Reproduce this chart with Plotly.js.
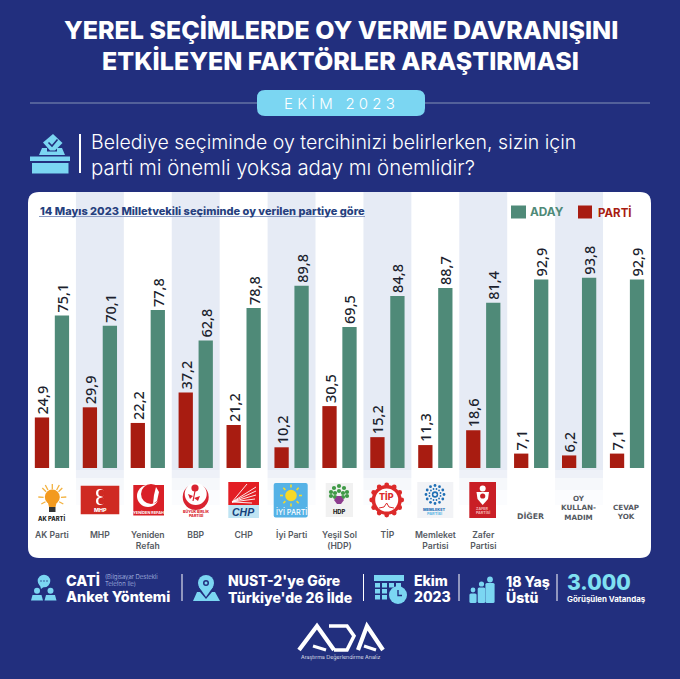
<!DOCTYPE html>
<html><head><meta charset="utf-8">
<script src="https://cdn.plot.ly/plotly-3.0.0.min.js"></script>
<style>html,body{margin:0;padding:0;background:#222f7e}
.annotation[data-index="2"] text{letter-spacing:4.2px}
</style></head><body><div id="c" style="width:680px;height:679px"></div>
<script>
// ---- data ----
const categories=["AK Parti","MHP","Yeniden Refah","BBP","CHP","İyi Parti","Yeşil Sol (HDP)","TİP","Memleket Partisi","Zafer Partisi","DİĞER","OY KULLANMADIM","CEVAP YOK"];
const partiValues=[24.9,29.9,22.2,37.2,21.2,10.2,30.5,15.2,11.3,18.6,7.1,6.2,7.1];
const adayValues=[75.1,70.1,77.8,62.8,78.8,89.8,69.5,84.8,88.7,81.4,92.9,93.8,92.9];
const partyTickLabels=["AK Parti","MHP","Yeniden<br>Refah","BBP","CHP","İyi Parti","Yeşil Sol<br>(HDP)","TİP","Memleket<br>Partisi","Zafer<br>Partisi"];
const NAVY="#222f7e",CYAN="#7bd6f2",GREEN="#4f8a78",RED="#a81c11";
// ---- pixel helpers for the decoration ----
const X=p=>p/680,Y=p=>1-p/679;
const shapes=[],ann=[];
const base={xref:"paper",yref:"paper",layer:"below"};
function rect(x0,y0,x1,y1,c){shapes.push({...base,type:"rect",x0:X(x0),x1:X(x1),y0:Y(y0),y1:Y(y1),fillcolor:c,line:{width:0}});}
function circ(cx,cy,r,c){shapes.push({...base,type:"circle",x0:X(cx-r),x1:X(cx+r),y0:Y(cy-r),y1:Y(cy+r),fillcolor:c,line:{width:0}});}
function poly(pts,c){shapes.push({...base,type:"path",path:"M"+pts.map(p=>X(p[0])+","+Y(p[1])).join("L")+"Z",fillcolor:c,line:{width:0}});}
function stroke(pts,c,w){shapes.push({...base,type:"path",path:"M"+pts.map(p=>X(p[0])+","+Y(p[1])).join("L"),line:{color:c,width:w}});}
function rr(x0,y0,x1,y1,r,c){const q=(a,b,d,e)=>"Q"+X(a)+","+Y(b)+" "+X(d)+","+Y(e);
 shapes.push({...base,type:"path",fillcolor:c,line:{width:0},path:"M"+X(x0+r)+","+Y(y0)+"L"+X(x1-r)+","+Y(y0)+q(x1,y0,x1,y0+r)+"L"+X(x1)+","+Y(y1-r)+q(x1,y1,x1-r,y1)+"L"+X(x0+r)+","+Y(y1)+q(x0,y1,x0,y1-r)+"L"+X(x0)+","+Y(y0+r)+q(x0,y0,x0+r,y0)+"Z"});}
function T(t,x,y,size,color,o){o=o||{};ann.push({text:t,xref:"paper",yref:"paper",x:X(x),y:Y(y),xanchor:o.a||"center",yanchor:"middle",showarrow:false,borderpad:0,align:o.a||"center",font:{family:o.f||"Inter",size:size,color:color,weight:o.w||400}});}
// ---- header ----
T("YEREL SEÇİMLERDE OY VERME DAVRANIŞINI",340.5,30,25,"#fff",{w:800});
T("ETKİLEYEN FAKTÖRLER ARAŞTIRMASI",340.5,61,25,"#fff",{w:800});
stroke([[30,103],[650,103]],"#53619a",2);
rr(257,90,425,116,8,CYAN);
T("EKİM 2023",341,103,15,"#ffffff",{w:300});
// ballot icon
rect(32,163,68.5,173.5,CYAN);rect(30,156.5,70,161,CYAN);
poly([[42,148],[47,148],[47,151.5],[57,151.5],[57,148],[62,148],[65,155],[39,155]],CYAN);
poly([[53,134],[62.5,143],[55,150.5],[50,150.5],[43,142.5]],CYAN);
stroke([[48.5,142.5],[52,146],[57.5,139.5]],NAVY,1.6);
rect(79,134,81,173,"#fff");
T("Belediye seçiminde oy tercihinizi belirlerken, sizin için",90,142,19.5,"#fff",{a:"left",w:300});
T("parti mi önemli yoksa aday mı önemlidir?",90,167,20.4,"#fff",{a:"left",w:300});
// card and bands
rr(28,192,651,558,11,"#ffffff");
for(let i=1;i<13;i+=2){const a=28+i*47.92,b=a+47.92;
 rect(a,192,b,470,"#e6ebf5");rect(a,470,b,478,"#eef1f8");rect(a,478,b,490,"#f6f8fb");rect(a,490,b,505,"#fbfcfe");}
T("14 Mayıs 2023 Milletvekili seçiminde oy verilen partiye göre",39,211,11,"#263f7e",{a:"left",w:800});
stroke([[39,216.5],[365,216.5]],"#8a9bc4",1);
// legend
rect(511,205.5,526,218.5,GREEN);T("ADAY",529,212,11.8,GREEN,{a:"left",w:700});
rect(578,205.5,592,218.5,RED);T("PARTİ",597,212,11.5,RED,{a:"left",w:700});
// non-party labels
const GR="#555a62",DV="DejaVu Sans";
T("DİĞER",530,516,7.8,GR,{w:700,f:DV});
T("OY<br>KULLAN-<br>MADIM",578.6,507.5,7.2,GR,{w:700,f:DV});
T("CEVAP<br>YOK",626,511.7,7.2,GR,{w:700,f:DV});
// ---- logos ----
// AK
for(const d of [[0,-14],[-10,-10],[10,-10],[-14,-1],[14,-1],[-7,-13],[7,-13],[-11,6],[11,6]]){stroke([[52.3+d[0]*.62,498+d[1]*.62],[52.3+d[0],498+d[1]]],"#f3b240",1.3);}
circ(52.3,497,7.5,"#f39a1f");poly([[47.5,501],[57,501],[55.5,507],[49,507]],"#f39a1f");rect(49,507,55.5,512,"#333");
T("AK PARTİ",52.3,518,5.8,"#222",{w:800});
// MHP
rect(80.7,485.7,119.3,514.3,"#cf2a22");
for(const y of [493,501]){circ(100,y,4,"#fff");circ(101.5,y,3.2,"#cf2a22");}
T("MHP",100,510,5.4,"#fff",{w:800});
// Yeniden Refah
rect(133.3,485,164,515.5,"#d92027");
circ(148,496,11,"#fff");circ(151,494,10,"#d92027");
poly([[156,487],[159,492],[157,501],[153,504],[154,495]],"#fff");
T("YENİDEN REFAH",148.6,512,3.9,"#fff",{w:700});
// BBP
circ(195.7,497,13,"#d92330");circ(195.7,494,11,"#fff");
circ(195,488,3.6,"#d92330");stroke([[195,491],[193,501]],"#d92330",1.2);poly([[193,496],[188,494],[190,499]],"#d92330");poly([[194,498],[200,496],[198,501]],"#d92330");
T("BÜYÜK BİRLİK",195.7,511,3.7,"#d92330",{w:800});T("PARTİSİ",195.7,515.5,3.7,"#d92330",{w:800});
// CHP
rect(228.3,482,259,505,"#e31e24");rect(228.3,505,259,518,"#bfe4f3");
for(const e of [[256,487],[256,491],[256,495],[255,499],[252,503],[247,484]]){stroke([[232,502],e],"#fff",.9);}
T("<i>CHP</i>",243.6,511.5,10.5,"#16407a",{w:800,f:"Liberation Sans"});
// IYI
rr(273.7,483,307.7,517.5,2,"#55b2e6");
for(const d of [[0,-1],[.7,-.7],[1,0],[.7,.7],[0,1],[-.7,.7],[-1,0],[-.7,-.7]]){stroke([[291+d[0]*8,495.5+d[1]*8],[291+d[0]*11,495.5+d[1]*11]],"#f6d928",1.6);}
circ(291,495.5,5.8,"#f6d928");
T("İYİ PARTİ",291,512,7.2,"#fff",{w:500});
// HDP
rect(325.7,483,353,517,"#f1f1f1");
for(const d of [[0,-7],[-5,-5],[5,-5],[-8,-1],[8,-1],[-4,0],[4,0],[0,-2],[-8,3],[8,3],[-4,4],[4,4]]){circ(339+d[0],493+d[1],2.1,"#3f9a46");}
poly([[337,496],[341,496],[344,500],[341,504],[337,504],[334,500]],"#8d3c8e");
T("HDP",339,511,5.8,"#222",{w:800});
// TIP
for(let k=0;k<12;k++){const a=k*Math.PI/6;circ(386.7+15*Math.cos(a),500+15*Math.sin(a),2.4,"#dc2a2a");}
circ(386.7,500,15,"#dc2a2a");circ(386.7,500,11.5,"#fff");
T("TİP",386.7,497,9,"#dc2a2a",{w:800});
stroke([[379,508],[384,507],[386.7,503],[389,507],[394,508]],"#dc2a2a",1);
// Memleket
rect(417.3,482,453.3,518,"#f2f3f6");
for(let k=0;k<12;k++){const a=k*Math.PI/6;circ(435+9*Math.cos(a),494.5+9*Math.sin(a),1.4,"#1f6fb5");circ(435+5.7*Math.cos(a+.26),494.5+5.7*Math.sin(a+.26),.9,"#1f6fb5");}
circ(435,494.5,3.2,"#1f6fb5");circ(435,494.5,1.6,"#f2f3f6");
T("MEMLEKET",435,509,3.9,"#1f6fb5",{w:800});T("PARTİSİ",435,513.5,3.9,"#58b5e5",{w:700});
// Zafer
rect(469.3,482,496,518,"#c91f26");
poly([[476.5,492],[489,492],[488,499],[482.7,505],[477.5,499]],"#fff");
circ(482.7,488.5,3,"#fff");circ(482.7,496,2.6,"#c91f26");
T("ZAFER",482.7,508.5,3.7,"#f4b8b8",{w:700});T("PARTİSİ",482.7,512.7,3.7,"#f4b8b8",{w:700});
// ---- footer ----
circ(44,581,6.3,CYAN);poly([[40,585],[45,586],[41,589]],CYAN);
for(const x of [41,44,47]){circ(x,581,.7,NAVY);}
for(const x of [37,50.5]){circ(x,590.8,3,CYAN);poly([[x-6,600.5],[x-4.5,595],[x+4.5,595],[x+6,600.5]],CYAN);}
T("CATİ",65,580,14.4,"#fff",{a:"left",w:800});
T("(Bilgisayar Destekli",104,576.5,6,"#b9c3ea",{a:"left",w:300});T("Telefon İle)",104,583,6,"#b9c3ea",{a:"left",w:300});
T("Anket Yöntemi",65,596.5,14.4,"#fff",{a:"left",w:800});
rect(181.5,574,182.5,601,"#fff");
circ(206,583,8,CYAN);poly([[199,587],[213,587],[206,597]],CYAN);circ(206,583,3,NAVY);circ(206,583,1.5,CYAN);
poly([[197,592],[200,592],[206,599],[212,592],[215,592],[220,601],[193,601]],CYAN);
T("NUST-2'ye Göre",227,580,14,"#fff",{a:"left",w:800});
T("Türkiye'de 26 İlde",227,596.5,14,"#fff",{a:"left",w:800});
rect(363,574,364,601,"#fff");
rect(374,575,404,581,CYAN);
for(const yy of [583,589,595])for(const xx of [375,382,389,396]){if(!(yy>587&&xx>388))rect(xx,yy,xx+5,yy+4.5,CYAN);}
circ(398,595,9,CYAN);stroke([[398,590],[398,595.5],[402,595.5]],NAVY,1.4);
T("Ekim",413,580,14,"#fff",{a:"left",w:800});T("2023",413,596.5,14,"#fff",{a:"left",w:800});
rect(458.5,574,459.5,601,"#fff");
for(const p of [[490,579.5,2.9,4.6,20],[481.5,584,2.6,3.8,16],[473,590,2.4,3.6,10]]){circ(p[0],p[1],p[2],CYAN);rr(p[0]-p[3],p[1]+3.4,p[0]+p[3],Math.min(603,p[1]+3.4+p[4]),1.5,CYAN);}
T("18 Yaş",505,581,14,"#fff",{a:"left",w:800});T("Üstü",505,597,14,"#fff",{a:"left",w:800});
rect(556.5,574,557.5,601,"#fff");
T("3.000",566,582,21,"#7fe0f2",{a:"left",w:800});
T("Görüşülen Vatandaş",566,599,7.9,"#fff",{a:"left",w:700});
// ADA logo
const W="#fff";
stroke([[299,650],[317,626],[334,650]],W,4.2);stroke([[313,646],[326,650]],W,3);
stroke([[329,626],[347,626],[354,636],[347,650],[334,650]],W,3.6);
stroke([[358,650],[367,626],[383,650]],W,4.2);stroke([[364,646],[376,650]],W,3);
T("Araştırma Değerlendirme Analiz",340.5,657,5.4,"#fff",{w:300});
// ---- chart ----
const lab={family:"Noto Sans",size:14.5,color:"#1c1f2e",weight:500};
const mk=(name,vals,c)=>({type:"bar",name,x:categories,y:vals,marker:{color:c},texttemplate:"%{y:.1f}",textposition:"outside",textangle:-90,textfont:lab,cliponaxis:false,constraintext:"none",hoverinfo:"x+y+name"});
const data=[mk("PARTİ",partiValues,RED),mk("ADAY",adayValues,GREEN)];
const layout={width:680,height:679,margin:{l:0,r:0,t:0,b:0},paper_bgcolor:NAVY,plot_bgcolor:"rgba(0,0,0,0)",showlegend:false,separators:",.",
 barmode:"group",bargap:0.166,bargroupgap:0.285,
 xaxis:{type:"category",domain:[28/680,651/680],range:[-0.5,12.5],fixedrange:true,showgrid:false,zeroline:false,showline:false,ticks:"",tickmode:"array",tickvals:categories.slice(0,10),ticktext:partyTickLabels,tickangle:0,ticklabelstandoff:60,tickfont:{family:"Inter",size:8.6,color:GR,weight:600}},
 yaxis:{domain:[1-468/679,1-192/679],range:[0,136],visible:false,fixedrange:true},
 shapes,annotations:ann};
Plotly.newPlot("c",data,layout,{displayModeBar:false,staticPlot:true});
</script></body></html>
